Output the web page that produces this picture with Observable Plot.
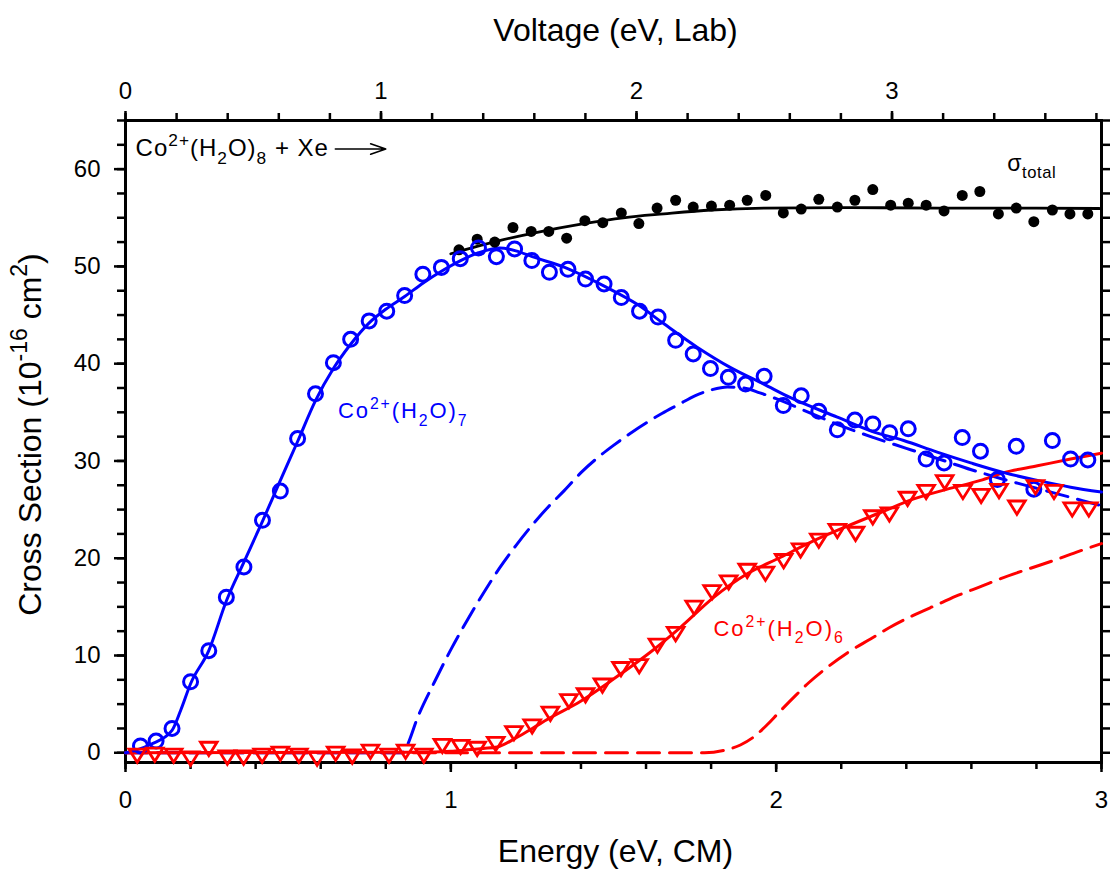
<!DOCTYPE html>
<html>
<head>
<meta charset="utf-8">
<script src="https://cdn.jsdelivr.net/npm/d3@7"></script>
<script src="https://cdn.jsdelivr.net/npm/@observablehq/plot@0.6"></script>
<style>
  html, body { margin: 0; padding: 0; background: #fff; overflow: hidden; }
  #chart svg { display: block; }
</style>
</head>
<body>
<div id="chart"></div>
<script>
// ---------------- data ----------------
// total cross section (filled black dots)
const totalE = [1.025,1.081,1.135,1.191,1.247,1.301,1.356,1.412,1.467,1.524,1.578,1.634,1.691,1.745,1.801,1.857,1.911,1.968,2.022,2.077,2.131,2.188,2.242,2.297,2.352,2.406,2.461,2.516,2.572,2.626,2.683,2.738,2.792,2.849,2.903,2.958];
const totalS = [51.7,52.8,52.5,54.0,53.6,53.6,52.9,54.7,54.5,55.5,54.4,56.0,56.8,56.1,56.2,56.3,56.8,57.3,55.5,55.9,56.9,56.1,56.8,57.9,56.3,56.5,56.3,55.7,57.3,57.7,55.4,56.0,54.6,55.8,55.4,55.4];

// Co2+(H2O)7 product (open blue circles)
const co7E = [0.046,0.094,0.143,0.200,0.256,0.310,0.364,0.421,0.476,0.529,0.584,0.639,0.692,0.749,0.803,0.858,0.914,0.971,1.029,1.085,1.140,1.196,1.249,1.303,1.360,1.414,1.471,1.524,1.580,1.637,1.691,1.745,1.798,1.853,1.906,1.963,2.022,2.077,2.131,2.188,2.242,2.297,2.349,2.406,2.461,2.516,2.572,2.628,2.680,2.738,2.792,2.849,2.905,2.958];
const co7S = [0.7,1.2,2.5,7.3,10.5,16.0,19.1,23.9,26.9,32.3,36.9,40.1,42.5,44.4,45.4,47.0,49.2,49.9,50.8,51.9,51.0,51.8,50.6,49.4,49.7,48.7,48.2,46.8,45.4,44.8,42.4,41.0,39.5,38.6,37.9,38.7,35.7,36.7,35.1,33.2,34.2,33.8,32.9,33.3,30.2,29.8,32.4,31.0,28.1,31.5,27.1,32.1,30.2,30.1];

// Co2+(H2O)6 product (open red down-triangles)
const co6E = [0.036,0.090,0.148,0.200,0.256,0.313,0.363,0.420,0.476,0.533,0.589,0.646,0.697,0.753,0.810,0.861,0.917,0.974,1.030,1.081,1.138,1.194,1.250,1.306,1.363,1.414,1.466,1.523,1.579,1.635,1.691,1.748,1.803,1.854,1.911,1.967,2.023,2.075,2.131,2.188,2.244,2.297,2.348,2.404,2.461,2.518,2.574,2.630,2.685,2.740,2.797,2.854,2.910,2.961];
const co6S = [-0.3,-0.2,-0.3,-0.6,0.4,-0.5,-0.5,-0.3,-0.1,-0.3,-0.6,-0.1,-0.4,0.1,-0.3,0.1,-0.3,0.7,0.6,0.4,0.9,2.0,2.7,4.0,5.3,5.9,6.9,8.6,8.9,11.0,12.2,14.9,16.5,17.5,18.7,18.4,19.7,20.8,21.8,22.8,22.5,24.2,24.5,26.1,26.8,27.8,26.8,26.4,26.9,25.2,27.3,26.8,25.0,25.0];

// model curves (solid = convoluted fit, dashed = unconvoluted)
const totalFitE = [1.0,1.143,1.25,1.409,1.53,1.655,1.8,1.962,2.2,2.5,2.8,3.0];
const totalFitS = [51.3,52.6,53.4,54.4,55.0,55.4,55.8,56.0,56.05,56.0,56.0,55.95];

const co7FitE = [0,0.026,0.08,0.143,0.17,0.2,0.256,0.31,0.364,0.421,0.476,0.529,0.584,0.639,0.692,0.749,0.80,0.858,0.915,0.971,1.03,1.085,1.15,1.2,1.25,1.35,1.47,1.573,1.655,1.757,1.86,1.962,2.044,2.188,2.29,2.392,2.495,2.598,2.7,2.803,2.905,3.0];
const co7FitS = [0,0.2,0.9,2.3,4.4,7.1,10.5,15.6,19.6,23.8,28.0,32.0,36.2,39.5,42.0,44.2,45.6,46.9,48.3,49.5,50.6,51.4,51.9,51.6,51.0,49.9,48.0,46.1,44.1,41.7,39.6,37.9,36.5,34.5,33.1,32.1,30.9,29.8,28.8,28.0,27.3,26.8];

const co7DashE = [0,0.85,0.86,0.90,0.95,1.00,1.05,1.10,1.15,1.20,1.25,1.30,1.35,1.40,1.45,1.50,1.55,1.60,1.65,1.70,1.75,1.80,1.85,1.90,1.95,2.0,2.1,2.2,2.3,2.4,2.5,2.6,2.7,2.8,2.9,3.0];
const co7DashS = [0,0,0.4,3.8,7.3,10.6,13.6,16.4,19.0,21.3,23.4,25.3,27.0,28.8,30.3,31.6,32.8,33.9,34.9,35.8,36.7,37.3,37.6,37.5,37.0,36.4,35.0,33.6,32.4,31.3,30.2,29.1,28.1,27.2,26.3,25.4];

const co6FitE = [0,0.9,1.0,1.05,1.1,1.143,1.204,1.255,1.3,1.399,1.501,1.604,1.706,1.809,1.911,2.014,2.116,2.219,2.321,2.423,2.526,2.628,2.7,2.803,2.905,3.0];
const co6FitS = [0,0.05,0.15,0.3,0.45,0.6,1.6,2.6,3.5,5.3,7.6,10.1,12.9,16.0,18.4,20.1,21.8,23.3,24.7,26.1,27.1,28.0,28.8,29.5,30.2,30.8];

const co6DashE = [0,1.78,1.84,1.89,1.93,1.97,2.01,2.06,2.10,2.15,2.22,2.29,2.35,2.42,2.50,2.56,2.63,2.69,2.78,2.86,2.93,3.0];
const co6DashS = [0,0,0.25,0.8,1.6,2.8,4.2,5.9,7.2,8.6,10.3,11.7,12.9,14.1,15.3,16.2,17.1,17.9,18.95,19.85,20.7,21.5];

// axes
const energyTickLabels = [0, 1, 2, 3];
const voltageTickLabels = [0, 1, 2, 3];
const sigmaTickLabels = [0, 10, 20, 30, 40, 50, 60];
// lab voltage = E_cm * (m_ion + m_Xe) / m_Xe / charge
const ionMass = 58.933 + 8 * 18.015, xeMass = 131.29, ionCharge = 2;
const k = (ionMass + xeMass) / xeMass / ionCharge;

// text
const titleX = "Energy (eV, CM)";
const titleTop = "Voltage (eV, Lab)";
const titleY = "Cross Section (10^{-16} cm^{2})";
const labelReaction = "Co^{2+}(H_{2}O)_{8} + Xe";
const labelCo7 = "Co^{2+}(H_{2}O)_{7}";
const labelCo6 = "Co^{2+}(H_{2}O)_{6}";
const labelTotal = "σ_{total}";

// ---------------- build ----------------
const pts = (E, S) => E.map((e, i) => ({E: e, S: S[i]}));
const total = pts(totalE, totalS), co7 = pts(co7E, co7S), co6 = pts(co6E, co6S);
const totalFit = pts(totalFitE, totalFitS), co7Fit = pts(co7FitE, co7FitS), co7Dash = pts(co7DashE, co7DashS);
const co6Fit = pts(co6FitE, co6FitS), co6Dash = pts(co6DashE, co6DashS);

const xMinor = d3.range(0, 3.0001, 0.2);
const yMinor = d3.range(0, 65.0001, 2.5);
const vMinor = d3.range(0, 3.0 * k + 1e-6, 0.2).map(v => v / k);
const vMajor = voltageTickLabels.map(v => v / k);

const triangleDown = {
  draw(ctx, size) {
    const r = Math.sqrt(size / Math.PI);
    const h = r * 0.8;
    ctx.moveTo(-r, -h);
    ctx.lineTo(r, -h);
    ctx.lineTo(0, h);
    ctx.closePath();
  }
};

const BLUE = "#0000ff", RED = "#ff0000";
const FONT = "'Liberation Sans', Arial, Helvetica, sans-serif";

const chart = Plot.plot({
  width: 1110,
  height: 869,
  marginLeft: 125,
  marginRight: 9,
  marginTop: 120,
  marginBottom: 107,
  style: {fontFamily: FONT, fontSize: "24px", color: "black", background: "white"},
  x: {domain: [0, 3], axis: null},
  y: {domain: [-1, 65], axis: null},
  marks: [
    // axes: bottom (energy CM)
    Plot.axisX(xMinor, {anchor: "bottom", tickSize: 7, strokeWidth: 2.5, tickFormat: () => "", label: null}),
    Plot.axisX(energyTickLabels, {anchor: "bottom", tickSize: 10, strokeWidth: 2.5, tickPadding: 18, fontSize: 24, tickFormat: d => String(d), label: null}),
    // top (voltage lab)
    Plot.axisX(vMinor, {anchor: "top", tickSize: 8, strokeWidth: 2.5, tickFormat: () => "", label: null}),
    Plot.axisX(vMajor, {anchor: "top", tickSize: 10, strokeWidth: 2.5, tickPadding: 12, fontSize: 24, tickFormat: d => String(Math.round(d * k)), label: null}),
    // left
    Plot.axisY(yMinor, {anchor: "left", tickSize: 8, strokeWidth: 2.5, tickFormat: () => "", label: null}),
    Plot.axisY(sigmaTickLabels, {anchor: "left", tickSize: 11, strokeWidth: 2.5, tickPadding: 14, fontSize: 24, tickFormat: d => String(d), label: null}),
    // right
    Plot.axisY(yMinor, {anchor: "right", tickSize: 9, strokeWidth: 2.5, tickFormat: () => "", label: null}),
    Plot.frame({stroke: "black", strokeWidth: 3}),

    // curves
    Plot.line(co6Dash, {x: "E", y: "S", stroke: RED, strokeWidth: 3, strokeDasharray: "22,10", curve: "monotone-x"}),
    Plot.line(co7Dash, {x: "E", y: "S", stroke: BLUE, strokeWidth: 3, strokeDasharray: "22,10", curve: "monotone-x"}),
    Plot.line(co6Fit, {x: "E", y: "S", stroke: RED, strokeWidth: 3, curve: "monotone-x"}),
    Plot.line(co7Fit, {x: "E", y: "S", stroke: BLUE, strokeWidth: 3, curve: "monotone-x"}),
    Plot.line(totalFit, {x: "E", y: "S", stroke: "black", strokeWidth: 2.8, curve: "monotone-x"}),

    // data symbols
    Plot.dot(total, {x: "E", y: "S", r: 5.5, fill: "black", stroke: "none"}),
    Plot.dot(co7, {x: "E", y: "S", r: 7, fill: "none", stroke: BLUE, strokeWidth: 3}),
    Plot.dot(co6, {x: "E", y: "S", r: 8.3, symbol: triangleDown, fill: "none", stroke: RED, strokeWidth: 2.8}),

    // annotations
    Plot.text([labelReaction], {x: 0.031, y: 62.15, text: d => d, textAnchor: "start", fontSize: 24, fill: "black"}),
    Plot.arrow([{x1: 0.645, x2: 0.80, y: 62.07}], {x1: "x1", x2: "x2", y1: "y", y2: "y", stroke: "black", strokeWidth: 1.6, headAngle: 38, headLength: 15}),
    Plot.text([labelTotal], {x: 2.71, y: 60.6, text: d => d, textAnchor: "start", fontSize: 23, fill: "black"}),
    Plot.text([labelCo7], {x: 0.653, y: 35.1, text: d => d, textAnchor: "start", fontSize: 22, fill: BLUE}),
    Plot.text([labelCo6], {x: 1.807, y: 12.74, text: d => d, textAnchor: "start", fontSize: 22, fill: RED}),

    // axis titles
    Plot.text([titleTop], {frameAnchor: "top", dx: 2, dy: -90, text: d => d, fontSize: 32, textAnchor: "middle", lineAnchor: "middle"}),
    Plot.text([titleX], {frameAnchor: "bottom", dx: 2, dy: 89, text: d => d, fontSize: 32, textAnchor: "middle", lineAnchor: "middle"}),
    Plot.text([titleY], {frameAnchor: "left", dx: -95, dy: -7, rotate: -90, text: d => d, fontSize: 32, textAnchor: "middle", lineAnchor: "middle"})
  ]
});

document.getElementById("chart").append(chart);

// letter spacing of the in-plot labels (the reference typesets them loosely)
const spacing = new Map([[labelReaction, 1], [labelCo7, 1.9], [labelCo6, 2], [labelTotal, 0.6]]);

// turn ^{..} and _{..} markup into real superscript / subscript tspans
const NS = "http://www.w3.org/2000/svg";
chart.querySelectorAll("text").forEach(el => {
  const s = el.textContent;
  if (spacing.has(s)) el.setAttribute("letter-spacing", spacing.get(s));
  if (!/[\^_]\{/.test(s) || el.querySelector("tspan")) return;
  const fs = parseFloat(getComputedStyle(el).fontSize) || 24;
  el.textContent = "";
  const re = /([\^_])\{([^}]*)\}|([^\^_]+)/g;
  let shift = 0, m;
  while ((m = re.exec(s))) {
    const t = document.createElementNS(NS, "tspan");
    let target = 0, txt = m[3], small = false;
    if (m[1]) { target = m[1] === "^" ? -0.42 * fs : 0.34 * fs; txt = m[2]; small = true; }
    t.setAttribute("dy", (target - shift).toFixed(2));
    shift = target;
    if (small) t.setAttribute("font-size", (0.72 * fs).toFixed(1));
    t.textContent = txt;
    el.appendChild(t);
  }
});
</script>
</body>
</html>
